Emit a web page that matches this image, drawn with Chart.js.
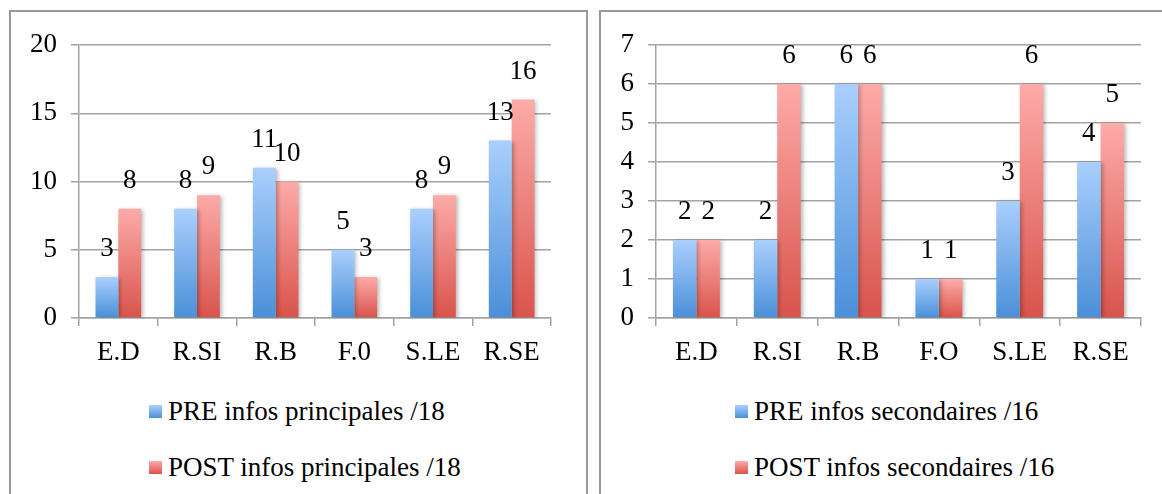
<!DOCTYPE html>
<html>
<head>
<meta charset="utf-8">
<script src="https://cdn.jsdelivr.net/npm/chart.js@4"></script>
<style>
  html, body { margin: 0; padding: 0; background: #fff; }
  body { width: 1162px; height: 494px; position: relative; overflow: hidden; font-family: "Liberation Serif", "DejaVu Serif", serif; }
  .panel { position: absolute; top: 10px; height: 520px; border: 2px solid #999; box-sizing: border-box; }
  #panelA { left: 9px; width: 579px; }
  #panelB { left: 599px; width: 600px; }
  canvas { position: absolute; }
  .legend { position: absolute; font-size: 27px; color: #000; font-family: "Liberation Serif", "DejaVu Serif", serif; }
  .legend div { position: absolute; white-space: nowrap; line-height: 30px; }
  .legend span.sw { display: inline-block; width: 13px; height: 13px; margin-right: 6px; vertical-align: 2px; }
</style>
</head>
<body>
<div class="panel" id="panelA"></div>
<div class="panel" id="panelB"></div>
<canvas id="chartA" style="left:11px; top:11px;"></canvas>
<canvas id="chartB" style="left:600px; top:11px;"></canvas>
<div class="legend" id="legendA" style="left:149px; top:396px;"></div>
<div class="legend" id="legendB" style="left:735px; top:396px;"></div>

<script>
const categoriesA = ["E.D", "R.SI", "R.B", "F.0", "S.LE", "R.SE"];
const preA = [3, 8, 11, 5, 8, 13];
const postA = [8, 9, 10, 3, 9, 16];
const ticksA = [0, 5, 10, 15, 20];

const categoriesB = ["E.D", "R.SI", "R.B", "F.O", "S.LE", "R.SE"];
const preB = [2, 2, 6, 1, 3, 4];
const postB = [2, 6, 6, 1, 6, 5];
const ticksB = [0, 1, 2, 3, 4, 5, 6, 7];

const blueTop = "#aacffd", blueBottom = "#4a8fd8";
const redTop = "#fdaba9", redBottom = "#d9534b";
const gridColor = "#a3a3a3";
const font = { family: "\"Liberation Serif\", \"DejaVu Serif\", serif", size: 27 };

function barGradient(top, bottom) {
  return (c) => {
    const chart = c.chart;
    const y = chart.scales.y;
    if (!y || c.type !== "data") return bottom;
    const y0 = y.getPixelForValue(c.raw);
    const y1 = y.getPixelForValue(0);
    if (!isFinite(y0) || !isFinite(y1) || y0 === y1) return bottom;
    const g = chart.ctx.createLinearGradient(0, y0, 0, y1);
    g.addColorStop(0, top);
    g.addColorStop(1, bottom);
    return g;
  };
}

// soft shadow behind bars, like the office chart
const shadowPlugin = {
  id: "shadow",
  beforeDatasetDraw(chart) {
    const ctx = chart.ctx;
    ctx.save();
    ctx.shadowColor = "rgba(0,0,0,0.28)";
    ctx.shadowBlur = 4;
    ctx.shadowOffsetX = 2;
    ctx.shadowOffsetY = 1;
  },
  afterDatasetDraw(chart) {
    chart.ctx.restore();
  }
};

// value written above each bar
const valuePlugin = {
  id: "values",
  afterDatasetsDraw(chart) {
    const ctx = chart.ctx;
    ctx.save();
    ctx.font = font.size + "px " + font.family;
    ctx.fillStyle = "#000";
    ctx.textAlign = "center";
    ctx.textBaseline = "middle";
    chart.data.datasets.forEach((ds, i) => {
      chart.getDatasetMeta(i).data.forEach((bar, j) => {
        ctx.fillText(ds.data[j], bar.x, bar.y - 28);
      });
    });
    ctx.restore();
  }
};

function makeChart(id, labels, pre, post, tickVals, size) {
  const canvas = document.getElementById(id);
  canvas.width = size.w;
  canvas.height = size.h;
  canvas.style.width = size.w + "px";
  canvas.style.height = size.h + "px";

  return new Chart(canvas, {
    type: "bar",
    data: {
      labels,
      datasets: [
        { label: size.preLabel, data: pre, backgroundColor: barGradient(blueTop, blueBottom) },
        { label: size.postLabel, data: post, backgroundColor: barGradient(redTop, redBottom) }
      ]
    },
    options: {
      responsive: false,
      animation: false,
      devicePixelRatio: 1,
      categoryPercentage: 0.58,
      barPercentage: 1,
      layout: { padding: { left: 0, right: size.right, top: 34, bottom: 0 } },
      plugins: { legend: { display: false }, tooltip: { enabled: false } },
      scales: {
        x: {
          grid: { drawOnChartArea: false, drawTicks: true, tickLength: 8, color: gridColor, lineWidth: 1.5 },
          border: { color: gridColor, width: 1.5 },
          ticks: { font, color: "#000", padding: 11 },
          afterFit(s) { s.height = size.h - 307; }
        },
        y: {
          min: tickVals[0],
          max: tickVals[tickVals.length - 1],
          afterBuildTicks(s) { s.ticks = tickVals.map(v => ({ value: v })); },
          grid: { color: gridColor, lineWidth: 1.5, tickLength: 8 },
          border: { color: gridColor, width: 1.5 },
          ticks: { font, color: "#000", padding: 14 },
          afterFit(s) { s.width = size.axis; }
        }
      }
    },
    plugins: [shadowPlugin, valuePlugin]
  });
}

function makeLegend(id, chart) {
  const box = document.getElementById(id);
  const swatches = [
    "linear-gradient(" + blueTop + "," + blueBottom + ")",
    "linear-gradient(" + redTop + "," + redBottom + ")"
  ];
  chart.data.datasets.forEach((ds, i) => {
    const row = document.createElement("div");
    row.style.top = (i * 56) + "px";
    const sw = document.createElement("span");
    sw.className = "sw";
    sw.style.background = swatches[i];
    row.appendChild(sw);
    row.appendChild(document.createTextNode(ds.label));
    box.appendChild(row);
  });
}

const chartA = makeChart("chartA", categoriesA, preA, postA, ticksA,
  { w: 574, h: 370, axis: 68, right: 34, preLabel: "PRE infos principales /18", postLabel: "POST infos principales /18" });
const chartB = makeChart("chartB", categoriesB, preB, postB, ticksB,
  { w: 562, h: 370, axis: 56, right: 21, preLabel: "PRE infos secondaires /16", postLabel: "POST infos secondaires /16" });

makeLegend("legendA", chartA);
makeLegend("legendB", chartB);
</script>
</body>
</html>
